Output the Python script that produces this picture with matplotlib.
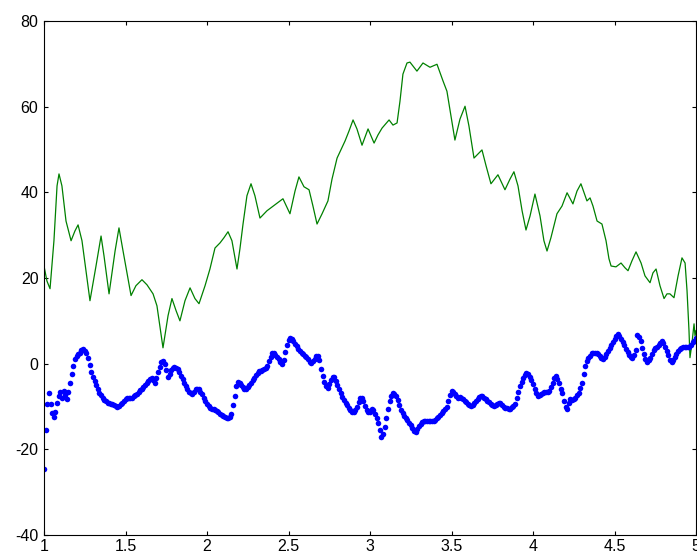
import numpy as np
import matplotlib
matplotlib.use("Agg")
import matplotlib.pyplot as plt

plt.rcParams["font.family"] = ["Liberation Sans", "DejaVu Sans"]
plt.rcParams["axes.unicode_minus"] = False

# Green trace: sampled positions and values
green_x = [1.000, 1.018, 1.037, 1.061, 1.080, 1.092, 1.110, 1.135, 1.166, 1.190,
           1.209, 1.233, 1.282, 1.319, 1.350, 1.368, 1.399, 1.436, 1.460, 1.485,
           1.534, 1.564, 1.601, 1.632, 1.669, 1.693, 1.730, 1.761, 1.785, 1.810,
           1.834, 1.865, 1.896, 1.926, 1.951, 1.988, 2.018, 2.049, 2.080, 2.104,
           2.129, 2.153, 2.184, 2.202, 2.221, 2.245, 2.270, 2.294, 2.325, 2.368,
           2.417, 2.466, 2.509, 2.540, 2.564, 2.595, 2.626, 2.650, 2.675, 2.706,
           2.742, 2.767, 2.798, 2.847, 2.871, 2.896, 2.920, 2.951, 2.988, 3.025,
           3.049, 3.074, 3.117, 3.141, 3.166, 3.184, 3.202, 3.227, 3.245, 3.288,
           3.325, 3.368, 3.411, 3.448, 3.472, 3.497, 3.521, 3.552, 3.583, 3.607,
           3.638, 3.687, 3.712, 3.742, 3.785, 3.828, 3.859, 3.883, 3.908, 3.933,
           3.957, 3.982, 4.012, 4.043, 4.067, 4.086, 4.110, 4.147, 4.178, 4.209,
           4.245, 4.270, 4.294, 4.331, 4.350, 4.368, 4.393, 4.423, 4.448, 4.466,
           4.479, 4.509, 4.540, 4.564, 4.583, 4.607, 4.632, 4.663, 4.687, 4.718,
           4.736, 4.755, 4.779, 4.804, 4.822, 4.840, 4.865, 4.890, 4.914, 4.933,
           4.945, 4.957, 4.963, 4.975, 4.988, 4.994, 5.000]
green_y = [22.8, 19.3, 17.5, 28.7, 41.5, 44.3, 41.5, 33.3, 28.7, 31.0,
           32.4, 28.7, 14.7, 22.8, 29.8, 25.2, 16.3, 26.3, 31.7, 26.3,
           15.9, 18.2, 19.6, 18.4, 16.3, 13.5, 3.7, 11.2, 15.2, 12.4,
           10.0, 14.7, 17.7, 15.2, 14.0, 18.2, 22.1, 27.0, 28.2, 29.4,
           30.8, 28.7, 22.1, 26.8, 32.6, 39.2, 42.0, 39.2, 34.0, 35.7,
           37.1, 38.5, 35.0, 40.3, 43.6, 41.3, 40.6, 36.8, 32.6, 35.0,
           38.0, 43.1, 48.0, 52.0, 54.3, 56.9, 54.8, 51.0, 54.8, 51.5,
           53.4, 55.0, 56.9, 55.7, 56.2, 61.3, 67.6, 70.2, 70.4, 68.3,
           70.2, 69.2, 69.9, 66.0, 63.6, 57.8, 52.2, 57.1, 60.1, 55.5,
           48.0, 49.9, 46.2, 42.0, 44.1, 40.6, 43.1, 44.8, 41.5, 35.7,
           31.2, 34.5, 39.6, 34.5, 28.7, 26.3, 29.4, 35.0, 36.8, 39.9,
           37.3, 40.3, 42.0, 38.0, 38.7, 36.8, 33.3, 32.6, 28.7, 24.5,
           22.8, 22.6, 23.5, 22.4, 21.7, 24.0, 26.1, 23.5, 20.5, 18.9,
           21.2, 22.1, 18.2, 15.2, 16.3, 16.3, 15.4, 20.5, 24.7, 23.5,
           17.0, 7.7, 1.4, 4.7, 9.3, 6.5, 7.7]

# Blue dotted series: one value per 0.01 step from 1.00 to 5.00
blue_start, blue_step = 1.0, 0.01
blue_y = [
    -24.5, -15.6, -9.3, -6.8, -9.5, -11.5, -12.5, -11.2, -9.1, -7.6,
    -6.5, -7.9, -6.3, -7.2, -8.3, -6.6, -4.6, -2.4, -0.6, 1.0,
    1.8, 2.3, 2.6, 3.1, 3.4, 3.0, 2.5, 1.4, -0.4, -1.9,
    -3.1, -4.0, -5.0, -5.9, -6.8, -7.4, -8.0, -8.5, -8.8, -9.1,
    -9.2, -9.4, -9.3, -9.6, -9.9, -10.0, -9.8, -9.5, -9.2, -8.7,
    -8.3, -8.1, -8.0, -7.9, -7.9, -7.6, -7.3, -7.0, -6.7, -6.2,
    -5.8, -5.4, -4.9, -4.5, -4.0, -3.6, -3.4, -3.9, -4.4, -3.3,
    -2.0, -0.8, 0.4, 0.7, 0.0, -1.5, -3.2, -2.5, -1.4, -1.0,
    -0.8, -1.0, -1.3, -2.0, -2.8, -3.6, -4.5, -5.3, -6.0, -6.5,
    -6.9, -7.0, -6.5, -6.0, -5.8, -6.0, -6.5, -7.0, -7.9, -8.7,
    -9.3, -9.9, -10.4, -10.5, -10.6, -10.8, -11.0, -11.3, -11.7, -12.0,
    -12.2, -12.4, -12.6, -12.6, -12.5, -11.8, -9.6, -7.6, -5.2, -4.3,
    -4.6, -5.0, -5.5, -5.8, -5.8, -5.4, -4.9, -4.4, -3.9, -3.4,
    -2.7, -2.1, -1.8, -1.6, -1.4, -1.2, -1.0, -0.5, 0.6, 1.6,
    2.5, 2.6, 2.0, 1.6, 1.1, 0.4, 0.0, 0.8, 2.8, 4.4,
    5.6, 6.0, 5.8, 5.3, 4.7, 4.1, 3.5, 3.0, 2.6, 2.2,
    1.8, 1.5, 1.0, 0.5, 0.2, 0.6, 1.2, 1.7, 1.9, 0.8,
    -1.2, -2.8, -4.2, -5.3, -5.6, -4.8, -3.8, -3.0, -3.2, -4.0,
    -5.0, -6.0, -6.9, -7.7, -8.4, -9.1, -9.7, -10.3, -10.8, -11.3,
    -11.4, -10.9, -10.2, -9.0, -8.1, -7.9, -8.8, -9.8, -10.8, -11.4,
    -11.2, -10.6, -10.8, -11.8, -12.8, -13.9, -15.5, -17.2, -16.4, -14.8,
    -12.8, -10.6, -8.8, -7.6, -6.8, -7.0, -7.6, -8.4, -9.6, -10.8,
    -11.6, -12.3, -12.8, -13.2, -13.8, -14.4, -15.1, -15.8, -16.0, -15.3,
    -14.5, -14.0, -13.7, -13.5, -13.3, -13.3, -13.4, -13.5, -13.5, -13.4,
    -13.1, -12.8, -12.4, -12.0, -11.5, -11.0, -10.6, -10.2, -8.8, -7.3,
    -6.4, -6.5, -7.0, -7.6, -7.9, -7.8, -7.9, -8.2, -8.6, -9.0,
    -9.3, -9.6, -9.8, -9.6, -9.1, -8.6, -8.2, -7.8, -7.5, -7.6,
    -7.9, -8.3, -8.6, -9.0, -9.4, -9.7, -9.8, -9.6, -9.3, -9.1,
    -9.2, -9.6, -10.0, -10.3, -10.4, -10.5, -10.5, -10.2, -9.8, -9.3,
    -8.0, -6.6, -5.3, -4.2, -3.3, -2.6, -2.1, -2.3, -3.0, -3.8,
    -4.8, -5.8, -6.8, -7.5, -7.3, -7.0, -6.8, -6.7, -6.6, -6.5,
    -6.3, -5.5, -4.4, -3.4, -2.8, -3.6, -4.6, -5.8, -6.8, -8.6,
    -10.2, -10.5, -9.2, -8.2, -8.4, -8.2, -7.9, -7.4, -6.8, -5.6,
    -4.6, -2.4, -0.6, 0.6, 1.3, 1.9, 2.4, 2.6, 2.5, 2.4,
    2.2, 1.8, 1.4, 1.2, 1.6, 2.3, 2.9, 3.6, 4.3, 5.0,
    5.7, 6.4, 7.0, 6.5, 5.8, 5.0, 4.3, 3.5, 2.8, 2.1,
    1.6, 1.3, 2.0, 3.2, 6.6, 6.2, 5.3, 3.6, 2.2, 1.0,
    0.3, 0.8, 1.3, 2.2, 3.1, 3.6, 4.0, 4.3, 4.9, 5.4,
    4.8, 3.9, 3.0, 2.0, 0.9, 0.4, 0.8, 1.5, 2.3, 3.0,
    3.5, 3.7, 3.9, 4.0, 4.0, 4.0, 4.0, 4.3, 5.0, 5.4,
    6.0,
]
blue_x = blue_start + blue_step * np.arange(len(blue_y))

x_ticks = [1, 1.5, 2, 2.5, 3, 3.5, 4, 4.5, 5]
x_tick_labels = ["1", "1.5", "2", "2.5", "3", "3.5", "4", "4.5", "5"]
y_ticks = [-40, -20, 0, 20, 40, 60, 80]
y_tick_labels = ["-40", "-20", "0", "20", "40", "60", "80"]

W, H = 697, 553
fig = plt.figure(figsize=(W / 100, H / 100), dpi=100)
ax = fig.add_axes([44 / W, (H - 535) / H, 652 / W, 514 / H])

ax.plot(green_x, green_y, color=(0, 0.5, 0), linewidth=0.9)
ax.plot(blue_x, blue_y, linestyle="none", marker="o", markersize=4.0,
        markerfacecolor=(0, 0, 1), markeredgecolor="none")

ax.set_xlim(1, 5)
ax.set_ylim(-40, 80)
ax.set_xticks(x_ticks)
ax.set_xticklabels(x_tick_labels)
ax.set_yticks(y_ticks)
ax.set_yticklabels(y_tick_labels)

ax.tick_params(direction="in", length=3, width=0.8, top=True, right=True,
               labelsize=11.5, colors="black", pad=4)
ax.tick_params(axis="x", pad=3)
for s in ax.spines.values():
    s.set_linewidth(0.8)
    s.set_color("black")

fig.savefig("out.png", dpi=100, facecolor="white")
